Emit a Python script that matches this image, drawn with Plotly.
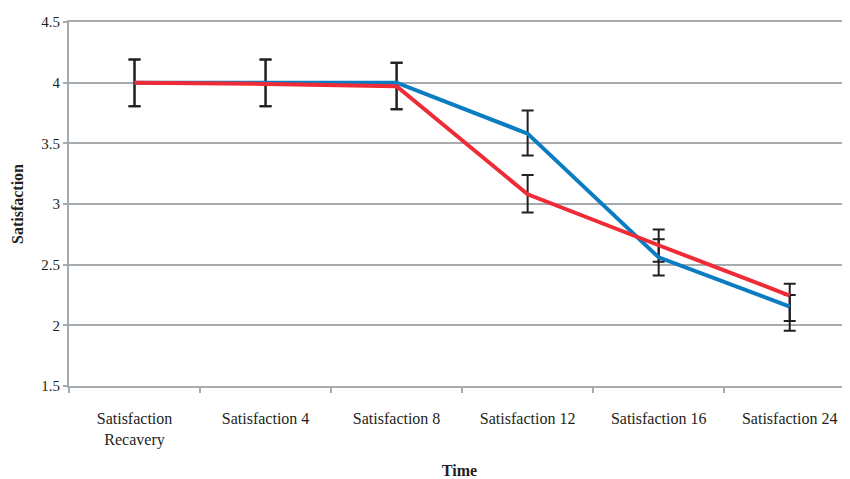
import plotly.graph_objects as go

categories = ["Satisfaction<br>Recavery", "Satisfaction 4", "Satisfaction 8",
              "Satisfaction 12", "Satisfaction 16", "Satisfaction 24"]

blue_values = [4.0, 4.0, 4.0, 3.58, 2.56, 2.154]
blue_err_plus = [0.19, 0.19, 0.165, 0.19, 0.15, 0.096]
blue_err_minus = [0.195, 0.195, 0.22, 0.18, 0.15, 0.198]

red_values = [4.0, 3.99, 3.97, 3.08, 2.66, 2.245]
red_err_plus = [0.19, 0.20, 0.195, 0.16, 0.13, 0.098]
red_err_minus = [0.195, 0.185, 0.19, 0.15, 0.135, 0.209]

y_ticks = [1.5, 2, 2.5, 3, 3.5, 4, 4.5]
y_tick_text = ["1.5", "2", "2.5", "3", "3.5", "4", "4.5"]

BLUE = "#0a7dc2"
RED = "#ee2b36"
GRID = "#a6abb0"
BAR = "#231f20"
FONT = "Liberation Serif"

x_idx = list(range(len(categories)))

fig = go.Figure()
series = [(blue_values, blue_err_plus, blue_err_minus, BLUE),
          (red_values, red_err_plus, red_err_minus, RED)]
# error bars first (underneath), then the lines on top
for vals, ep, em, col in series:
    fig.add_trace(go.Scatter(
        x=x_idx, y=vals, mode="lines",
        line=dict(color=col, width=0),
        error_y=dict(type="data", symmetric=False, array=ep, arrayminus=em,
                     color=BAR, thickness=2, width=6),
        showlegend=False, hoverinfo="skip"))
for vals, ep, em, col in series:
    fig.add_trace(go.Scatter(
        x=x_idx, y=vals, mode="lines",
        line=dict(color=col, width=4),
        showlegend=False, hoverinfo="skip"))

# page body has an 8px margin, so the figure is placed at (8, 8)
fig.update_layout(
    width=842, height=471,
    margin=dict(l=61, r=0, t=14, b=93),
    paper_bgcolor="white", plot_bgcolor="white",
    font=dict(family=FONT, size=15, color="#231f20"),
    showlegend=False,
)
fig.update_xaxes(
    range=[-0.5, 5.46], automargin=False,
    tickmode="array", tickvals=x_idx, ticktext=categories,
    showgrid=False, zeroline=False,
    showline=True, mirror=True, linecolor=GRID, linewidth=2,
    ticks="",
    ticklabelstandoff=17,
    tickfont=dict(family=FONT, size=16, color="#231f20"),
    title=dict(text="<b>Time</b>", font=dict(family=FONT, size=16, color="#231f20"), standoff=27),
)
fig.update_xaxes(minor=dict(tickmode="array", tickvals=[i - 0.5 for i in range(len(categories) + 1)],
                            ticks="outside", ticklen=5, tickwidth=2, tickcolor=GRID, showgrid=False))
fig.update_yaxes(
    range=[1.5, 4.5], automargin=False,
    tickmode="array", tickvals=y_ticks, ticktext=y_tick_text,
    showgrid=True, gridcolor=GRID, gridwidth=2,
    zeroline=False,
    showline=True, linecolor=GRID, linewidth=2,
    ticks="outside", ticklen=4, tickwidth=2, tickcolor=GRID,
    tickfont=dict(family=FONT, size=15, color="#231f20"),
    title=dict(text="<b>Satisfaction</b>", font=dict(family=FONT, size=16, color="#231f20"), standoff=14),
)

fig.write_html("out.html")
